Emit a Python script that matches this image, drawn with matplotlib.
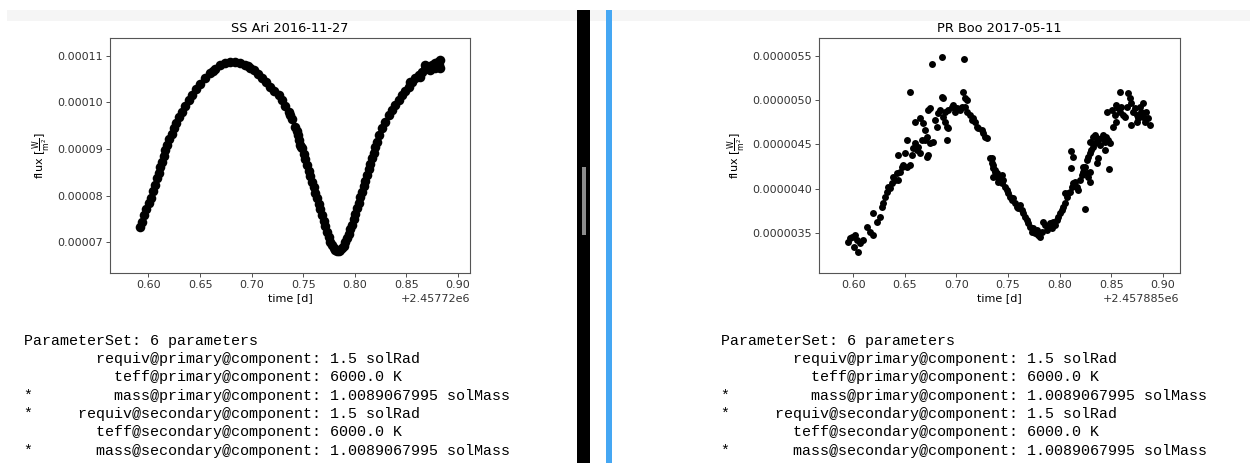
import numpy as np
import matplotlib.pyplot as plt
from matplotlib.patches import Rectangle

plt.rcParams['font.family'] = 'DejaVu Sans'
plt.rcParams['axes.formatter.limits'] = [-7, 7]

W, H = 1250, 463

# SS Ari 2016-11-27 : time = jd0 + dt, flux in 1e-5 W/m^2
ss_ari_jd0 = 2457720.0
ss_ari_dt = [
    0.59225, 0.59419, 0.59613, 0.59806, 0.60033, 0.60226, 0.60420, 0.60614,
    0.60840, 0.61002, 0.61163, 0.61325, 0.61486, 0.61648, 0.61809, 0.62035,
    0.62261, 0.62455, 0.62713, 0.62972, 0.63263, 0.63586, 0.63909, 0.64232,
    0.64619, 0.65039, 0.65524, 0.66008, 0.66493, 0.66977, 0.67462, 0.67946,
    0.68431, 0.68915, 0.69400, 0.69819, 0.70207, 0.70627, 0.71015, 0.71434,
    0.71822, 0.72210, 0.72630, 0.72952, 0.73275, 0.73599, 0.73922, 0.74245,
    0.74471, 0.74729, 0.74890, 0.75052, 0.75213, 0.75375, 0.75536, 0.75698,
    0.75859, 0.76021, 0.76182, 0.76344, 0.76505, 0.76667, 0.76828, 0.76990,
    0.77151, 0.77313, 0.77474, 0.77636, 0.77797, 0.77959, 0.78120, 0.78282,
    0.78443, 0.78605, 0.78766, 0.78928, 0.79089, 0.79251, 0.79412, 0.79574,
    0.79735, 0.79897, 0.80058, 0.80220, 0.80381, 0.80543, 0.80704, 0.80866,
    0.81027, 0.81189, 0.81350, 0.81512, 0.81673, 0.81835, 0.81996, 0.82158,
    0.82384, 0.82642, 0.82965, 0.83288, 0.83611, 0.83934, 0.84257, 0.84580,
    0.84903, 0.85226, 0.85549, 0.85872, 0.86195, 0.86518, 0.86841, 0.87164,
    0.87487, 0.87810, 0.88068, 0.88295, 0.88295, 0.85388, 0.86357, 0.86841,
    0.87326, 0.87810, 0.88133,
    0.74360, 0.74600, 0.74810, 0.73760, 0.66250, 0.69610,
]
ss_ari_flux = [
    7.335, 7.442, 7.585, 7.707, 7.835, 7.957, 8.100, 8.228,
    8.371, 8.486, 8.607, 8.729, 8.850, 8.972, 9.086, 9.207,
    9.329, 9.443, 9.565, 9.686, 9.800, 9.922, 10.043, 10.158,
    10.279, 10.401, 10.515, 10.622, 10.722, 10.801, 10.851, 10.872,
    10.858, 10.836, 10.794, 10.744, 10.694, 10.608, 10.515, 10.429,
    10.336, 10.251, 10.158, 10.043, 9.922, 9.800, 9.643, 9.479,
    9.300, 9.086, 9.014, 8.893, 8.779, 8.657, 8.536, 8.421,
    8.300, 8.178, 8.064, 7.943, 7.821, 7.707, 7.585, 7.464,
    7.349, 7.228, 7.121, 7.014, 6.942, 6.871, 6.828, 6.814,
    6.814, 6.835, 6.871, 6.928, 6.999, 7.085, 7.178, 7.278,
    7.371, 7.492, 7.607, 7.728, 7.850, 7.964, 8.085, 8.207,
    8.321, 8.443, 8.564, 8.679, 8.800, 8.921, 9.036, 9.157,
    9.300, 9.443, 9.586, 9.729, 9.836, 9.943, 10.050, 10.158,
    10.251, 10.336, 10.429, 10.515, 10.586, 10.658, 10.715, 10.765,
    10.801, 10.836, 10.872, 10.908, 10.729, 10.443, 10.551, 10.801,
    10.694, 10.729, 10.801,
    9.390, 9.190, 9.050, 9.720, 10.680, 10.770,
]
ss_ari_xticks = [0.60, 0.65, 0.70, 0.75, 0.80, 0.85, 0.90]
ss_ari_yticks = [7, 8, 9, 10, 11]  # 1e-5

# PR Boo 2017-05-11 : time = jd0 + dt, flux in 1e-6 W/m^2
pr_boo_jd0 = 2457885.0
pr_boo_dt = [
    0.5955, 0.5987, 0.6020, 0.6004, 0.6052, 0.6068, 0.6100, 0.6036, 0.5971,
    0.6133, 0.6165, 0.6197, 0.6197, 0.6229, 0.6261, 0.6278, 0.6294, 0.6310,
    0.6326, 0.6342, 0.6358, 0.6374, 0.6390, 0.6406, 0.6423, 0.6439, 0.6455,
    0.6471, 0.6487, 0.6519, 0.6552, 0.6439, 0.6503, 0.6519, 0.6568, 0.6584,
    0.6600, 0.6616, 0.6632, 0.6648, 0.6664, 0.6697, 0.6713, 0.6729, 0.6600,
    0.6648, 0.6680, 0.6697, 0.6713, 0.6745, 0.6777, 0.6729, 0.6745, 0.6552,
    0.6761, 0.6858, 0.7077, 0.6858, 0.6874, 0.7067, 0.7083, 0.7099, 0.6793,
    0.6809, 0.6825, 0.6842, 0.6874, 0.6890, 0.6906, 0.6922, 0.6906, 0.6890,
    0.6922, 0.6954, 0.6970, 0.6987, 0.7003, 0.7035, 0.7051, 0.7083, 0.7099,
    0.7132, 0.7148, 0.7164, 0.7180, 0.7196, 0.7212, 0.7244, 0.7261, 0.7277,
    0.7293, 0.7325, 0.7341, 0.7357, 0.7373, 0.7389, 0.7406,
    0.7341, 0.7357, 0.7373, 0.7357, 0.7389, 0.7406, 0.7438, 0.7454, 0.7438,
    0.7470, 0.7486, 0.7502, 0.7518, 0.7535, 0.7551, 0.7567, 0.7583, 0.7599,
    0.7615, 0.7631, 0.7647, 0.7664, 0.7680, 0.7696, 0.7712, 0.7728, 0.7744,
    0.7760, 0.7776, 0.7792, 0.7809, 0.7825, 0.7841, 0.7857, 0.7873, 0.7889,
    0.7905, 0.7921, 0.7938, 0.7954, 0.7970, 0.7986, 0.8002, 0.8018, 0.8034,
    0.8050, 0.8050, 0.8067, 0.8083, 0.8099, 0.8115, 0.8131, 0.8147, 0.8163,
    0.8179, 0.8195, 0.8212, 0.8244, 0.8228, 0.8260, 0.8276, 0.8292, 0.8244,
    0.8260, 0.8276, 0.8292, 0.8308, 0.8324, 0.8341, 0.8357, 0.8373, 0.8389,
    0.8405, 0.8421, 0.8437, 0.8453, 0.8470, 0.8486, 0.8292, 0.8324, 0.8341,
    0.8437, 0.8373, 0.8357, 0.8479, 0.8105, 0.8125, 0.8105, 0.8228, 0.8292,
    0.8518, 0.8544, 0.8460, 0.8502, 0.8534, 0.8550, 0.8566, 0.8582, 0.8598,
    0.8615, 0.8631, 0.8582, 0.8663, 0.8679, 0.8695, 0.8647, 0.8711, 0.8727,
    0.8744, 0.8760, 0.8776, 0.8792, 0.8808, 0.8824, 0.8840, 0.8856, 0.8873,
    0.8695, 0.8744, 0.8808,
]
pr_boo_flux = [
    3.406, 3.462, 3.481, 3.349, 3.293, 3.387, 3.424, 3.424, 3.443,
    3.575, 3.518, 3.481, 3.725, 3.631, 3.687, 3.800, 3.837, 3.912,
    3.969, 4.025, 4.006, 4.063, 4.138, 4.100, 4.175, 4.100, 4.194,
    4.250, 4.269, 4.250, 4.269, 4.382, 4.401, 4.551, 4.382, 4.457,
    4.513, 4.438, 4.476, 4.401, 4.551, 4.551, 4.363, 4.382, 4.757,
    4.795, 4.738, 4.663, 4.588, 4.513, 4.532, 4.889, 4.907, 5.087,
    5.407, 5.482, 5.463, 5.039, 5.020, 5.095, 5.020, 5.001, 4.776,
    4.701, 4.851, 4.889, 4.813, 4.757, 4.701, 4.682, 4.551, 4.870,
    4.889, 4.926, 4.945, 4.870, 4.907, 4.889, 4.926, 4.926, 4.870,
    4.832, 4.776, 4.795, 4.757, 4.701, 4.682, 4.663, 4.626, 4.588,
    4.569, 4.344, 4.288, 4.232, 4.194, 4.138, 4.081,
    4.344, 4.269, 4.213, 4.138, 4.175, 4.138, 4.157, 4.100, 4.063,
    4.025, 3.988, 3.950, 3.912, 3.875, 3.894, 3.837, 3.800, 3.781,
    3.819, 3.762, 3.725, 3.687, 3.650, 3.612, 3.575, 3.518, 3.556,
    3.500, 3.537, 3.481, 3.462, 3.518, 3.631, 3.593, 3.537, 3.575,
    3.612, 3.556, 3.631, 3.593, 3.650, 3.687, 3.725, 3.762, 3.800,
    3.837, 3.950, 3.912, 3.950, 3.969, 4.025, 4.063, 4.081, 4.025,
    3.988, 4.100, 4.157, 3.774, 4.194, 4.175, 4.138, 4.194, 4.250,
    4.325, 4.363, 4.401, 4.438, 4.476, 4.513, 4.569, 4.551, 4.494,
    4.569, 4.607, 4.532, 4.588, 4.551, 4.513, 4.532, 4.588, 4.607,
    4.438, 4.344, 4.288, 4.224, 4.430, 4.356, 4.232, 4.250, 4.081,
    4.701, 4.757, 4.870, 4.889, 4.832, 4.945, 4.907, 4.870, 4.926,
    4.832, 4.813, 5.087, 5.076, 5.020, 4.964, 4.926, 4.870, 4.907,
    4.832, 4.795, 4.926, 4.870, 4.813, 4.757, 4.870, 4.795, 4.720,
    4.720, 4.757, 4.964,
]
pr_boo_xticks = [0.60, 0.65, 0.70, 0.75, 0.80, 0.85, 0.90]
pr_boo_yticks = [3.5, 4.0, 4.5, 5.0, 5.5]  # 1e-6

# parameter printout under each plot
param_names = ['requiv@primary@component', 'teff@primary@component',
               'mass@primary@component', 'requiv@secondary@component',
               'teff@secondary@component', 'mass@secondary@component']
param_values = ['1.5 solRad', '6000.0 K', '1.0089067995 solMass',
                '1.5 solRad', '6000.0 K', '1.0089067995 solMass']
param_starred = [False, False, True, True, False, True]

fig = plt.figure(figsize=(W / 100, H / 100), dpi=100)
fig.patch.set_facecolor('white')


def box(x0, y0, x1, y1, color):
    # pixel box (top-left origin) -> figure rectangle
    fig.add_artist(Rectangle((x0 / W, 1 - y1 / H), (x1 - x0) / W, (y1 - y0) / H,
                             transform=fig.transFigure, color=color, lw=0, zorder=0))


# notebook chrome: cell top strip, scrollbar, selected-cell bar
box(7, 10, 577, 20.5, '#f5f5f5')
box(590, 10, W, 20.5, '#f5f5f5')
box(577, 10, 590, H, 'black')
box(581.5, 167, 585.5, 235, '#8c8c8c')
box(606, 10, 611.5, H, '#45a7f3')


def draw(ax, jd0, dt, flux, scale, size, xticks, yticks, xlim, ylim, title):
    t = jd0 + np.array(dt)
    f = np.array(flux) * scale
    ax.scatter(t, f, s=size, c='black', linewidths=0)
    ax.set_xticks([jd0 + v for v in xticks])
    ax.set_yticks([v * scale for v in yticks])
    ax.set_xlim(jd0 + xlim[0], jd0 + xlim[1])
    ax.set_ylim(ylim[0] * scale, ylim[1] * scale)
    ax.set_title(title, fontsize=9.3, pad=4.5)
    ax.set_xlabel('time [d]', fontsize=8, labelpad=2.5)
    ax.set_ylabel(r'flux [$\mathrm{\frac{W}{m^{2}}}$]', fontsize=8, labelpad=3)
    ax.tick_params(labelsize=8, length=2.6, width=0.6, colors='#333333', pad=2.5)
    ax.xaxis.get_offset_text().set_fontsize(8)
    ax.xaxis.get_offset_text().set_color('#333333')
    for sp in ax.spines.values():
        sp.set_linewidth(0.8)
        sp.set_color('#555555')


ax1 = fig.add_axes([110 / W, 1 - 273 / H, 360 / W, 235 / H])
draw(ax1, ss_ari_jd0, ss_ari_dt, ss_ari_flux, 1e-5, 48, ss_ari_xticks, ss_ari_yticks,
     (0.5627, 0.9116), (6.342, 11.379), 'SS Ari 2016-11-27')

ax2 = fig.add_axes([819 / W, 1 - 273 / H, 360.5 / W, 235 / H])
draw(ax2, pr_boo_jd0, pr_boo_dt, pr_boo_flux, 1e-6, 25, pr_boo_xticks, pr_boo_yticks,
     (0.567, 0.916), (3.053, 5.699), 'PR Boo 2017-05-11')

lines = ['ParameterSet: 6 parameters']
for name, val, star in zip(param_names, param_values, param_starred):
    lines.append(('*' if star else ' ') + f'{name:>31}: {val}')

for x0 in (24.5, 720.7):
    for i, line in enumerate(lines):
        fig.text(x0 / W, 1 - (340.7 + i * 18.33) / H, line, family='Liberation Mono',
                 fontsize=10.8, va='center', ha='left', color='black')

fig.savefig('out.png', dpi=100)
